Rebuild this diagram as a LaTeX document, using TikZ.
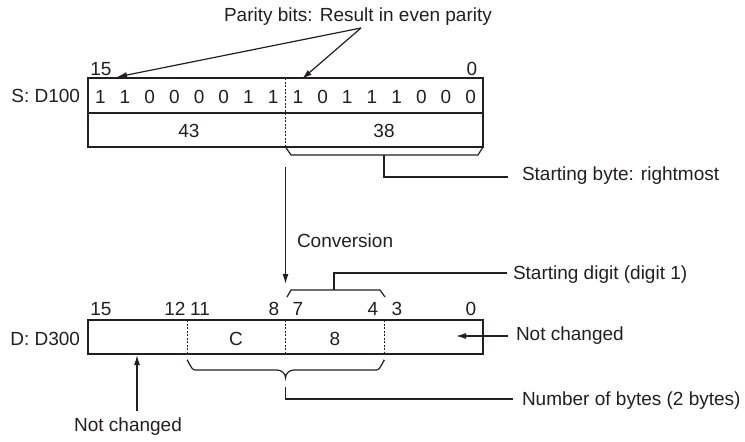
\documentclass[tikz,border=0pt]{standalone}
\usepackage{fontspec}
\setmainfont{Liberation Sans}
\usetikzlibrary{arrows.meta}
\definecolor{ink}{HTML}{231F20}
\begin{document}
\begin{tikzpicture}[x=1pt,y=-1pt,
  every node/.style={inner sep=0pt,outer sep=0pt,text=ink,font=\fontsize{19}{22}\selectfont},
  boxline/.style={draw=ink,line width=1.3pt},
  divline/.style={draw=ink,line width=0.9pt,dash pattern=on 2pt off 1.5pt},
  conn/.style={draw=ink,line width=1.2pt},
  arr/.style={draw=ink,line width=1.2pt,-{Latex[length=10pt,width=6pt]}},
  txt/.style={anchor=center}]
\useasboundingbox (0,0) rectangle (745,442);
% ---------- top register ----------
\node[boxline,minimum width=395pt,minimum height=35pt,anchor=north west] (srow) at (88,78) {};
\node[boxline,minimum width=395pt,minimum height=34pt,anchor=north west] (sval) at (88,113) {};
\draw[divline] (285.5,78) -- (285.5,147);
\node[anchor=east] (slab) at (80,96) {S: D100};
\foreach \b [count=\i from 0] in {1,1,0,0,0,0,1,1,1,0,1,1,1,0,0,0}{
  \node (sb\i) at ({88+(\i+0.5)*24.6875},97) {\b};
}
\node (s15) at (101,69) {15};
\node (s0) at (472,69) {0};
\node (v43) at (189,131) {43};
\node (v38) at (384,131) {38};
% parity
\node (par) at (358,17) {Parity bits: Result in even parity};
\coordinate (pa) at (361,28);
\coordinate (pl) at (117,77);
\coordinate (pr) at (302,79);
\draw[arr] (pa) -- (pl);
\draw[arr] (pa) -- (pr);
% starting byte bracket
\coordinate (bl) at (285.5,147);
\coordinate (br) at (483,147);
\coordinate (bm) at (384,155);
\coordinate (bme) at (384,177);
\coordinate (bend) at (508,177);
\draw[conn] (bl) -- (291,155) -- (478,155) -- (br);
\draw[conn] (bm) -- (bme) -- (bend);
\node[anchor=west] (sbyte) at (522,176) {Starting byte: rightmost};
% conversion
\coordinate (cv1) at (285.5,167);
\coordinate (cv2) at (285.5,284);
\draw[arr] (cv1) -- (cv2);
\node[anchor=west] (conv) at (297,241) {Conversion};
% starting digit bracket
\coordinate (dl) at (287,297);
\coordinate (dr) at (385,297);
\coordinate (dm) at (334,290);
\coordinate (dmt) at (334,273);
\coordinate (dend) at (507,273);
\draw[conn] (dl) -- (291,290) -- (380,290) -- (dr);
\draw[conn] (dm) -- (dmt) -- (dend);
\node[anchor=west] (sdig) at (513,275) {Starting digit (digit 1)};
% ---------- bottom register ----------
\node[boxline,minimum width=395pt,minimum height=34pt,anchor=north west] (dbox) at (88,320) {};
\draw[divline] (187,320) -- (187,354);
\draw[divline] (285.5,320) -- (285.5,354);
\draw[divline] (384.5,320) -- (384.5,354);
\node[anchor=east] (dlab) at (80,339) {D: D300};
\node (d15) at (101,309) {15};
\node (d12) at (175,309) {12};
\node (d11) at (200,309) {11};
\node (d8) at (274,309) {8};
\node (d7) at (298,309) {7};
\node (d4) at (373,309) {4};
\node (d3) at (397,309) {3};
\node (d0) at (471,309) {0};
\node (dC) at (236,339) {C};
\node (d8v) at (335,339) {8};
% right not changed
\node[anchor=west] (nc1) at (516,336) {Not changed};
\coordinate (nc1s) at (508,336);
\coordinate (nc1t) at (456,336);
\draw[arr] (nc1s) -- (nc1t);
% bottom not changed
\node (nc2) at (128,427) {Not changed};
\coordinate (nc2s) at (137,411);
\coordinate (nc2t) at (137,355);
\draw[arr] (nc2s) -- (nc2t);
% brace
\coordinate (brl) at (187,361);
\coordinate (brr) at (384.5,361);
\coordinate (brt) at (285.5,378);
\draw[conn] (brl) to[out=90,in=180] (195,370) -- (277,370) to[out=0,in=90] (brt)
  to[out=90,in=180] (294,370) -- (376.5,370) to[out=0,in=90] (brr);
\coordinate (nb1) at (285.5,387);
\coordinate (nb2) at (285.5,399);
\coordinate (nb3) at (513,399);
\draw[conn] (nb1) -- (nb2) -- (nb3);
\node[anchor=west] (nbytes) at (522,401) {Number of bytes (2 bytes)};
\end{tikzpicture}
\end{document}
